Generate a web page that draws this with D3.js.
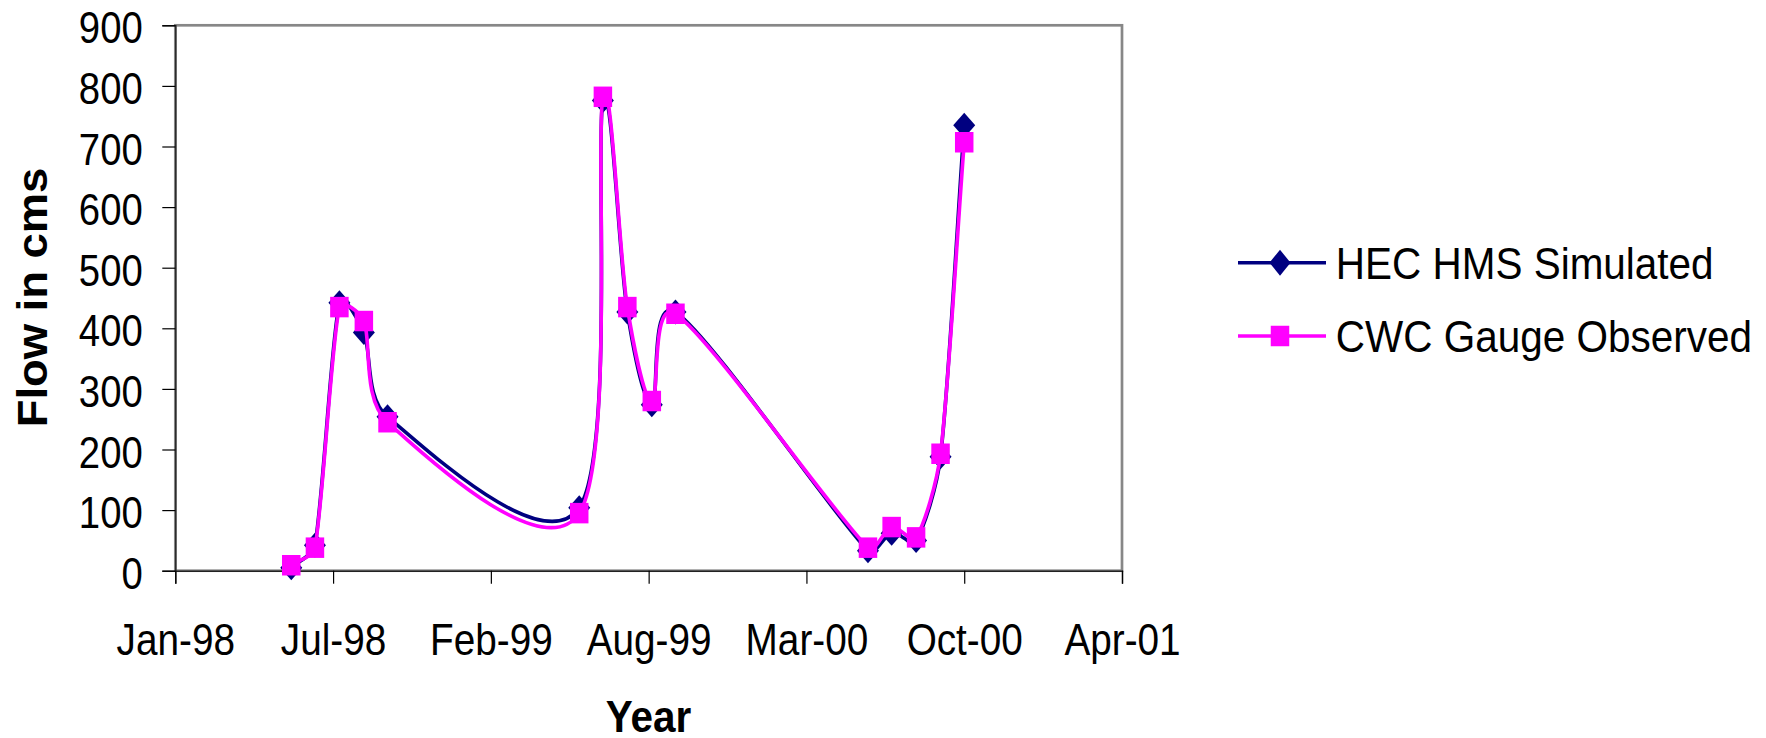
<!DOCTYPE html>
<html>
<head>
<meta charset="utf-8">
<script src="https://cdn.jsdelivr.net/npm/d3@7"></script>
<style>
  html, body { margin: 0; padding: 0; background: #ffffff; }
  svg { display: block; }
  text { font-family: "Liberation Sans", Arial, sans-serif; fill: #000; }
</style>
</head>
<body>
<svg id="chart" width="1766" height="738"></svg>
<script>
// Monthly flows (June–October) for three monsoon seasons
const obsDates = [
  "1998-06-01", "1998-07-01", "1998-08-01", "1998-09-01", "1998-10-01",
  "1999-06-01", "1999-07-01", "1999-08-01", "1999-09-01", "1999-10-01",
  "2000-06-01", "2000-07-01", "2000-08-01", "2000-09-01", "2000-10-01"
];
const hecSimulated = [5, 42, 442, 393, 254, 104, 776, 427, 274, 427, 33, 62, 50, 188, 735];
const cwcObserved  = [9, 38, 435, 412, 245, 95, 782, 435, 280, 424, 38, 72, 55, 193, 707];

const seriesNames = ["HEC HMS Simulated", "CWC Gauge Observed"];

// Date axis: 200-day major unit
const xTickDates  = ["1998-01-05", "1998-07-24", "1999-02-09", "1999-08-28", "2000-03-15", "2000-10-01", "2001-04-19"];
const xTickLabels = ["Jan-98", "Jul-98", "Feb-99", "Aug-99", "Mar-00", "Oct-00", "Apr-01"];
const yTicks = [0, 100, 200, 300, 400, 500, 600, 700, 800, 900];

const parse = d3.utcParse("%Y-%m-%d");
const dates = obsDates.map(parse);
const tickDates = xTickDates.map(parse);

const plot = { left: 175.3, right: 1122, top: 25.3, bottom: 570.7 };

const x = d3.scaleUtc()
  .domain([tickDates[0], tickDates[tickDates.length - 1]])
  .range([plot.left, plot.right]);
const y = d3.scaleLinear()
  .domain([0, 900])
  .range([plot.bottom, plot.top]);

// Spreadsheet-style smoothing: Catmull-Rom tangents as cubic Béziers,
// with each control arm limited to a third of its segment's chord.
function smoothLine(context) {
  let pts;
  const limit = 1 / 3;
  return {
    areaStart() {}, areaEnd() {},
    lineStart() { pts = []; },
    point(px, py) { pts.push([+px, +py]); },
    lineEnd() {
      const n = pts.length;
      if (!n) return;
      context.moveTo(pts[0][0], pts[0][1]);
      if (n === 1) return;
      const tan = pts.map((p, i) => {
        const a = pts[Math.max(0, i - 1)], b = pts[Math.min(n - 1, i + 1)];
        const f = (i === 0 || i === n - 1) ? 1 : 0.5;
        return [(b[0] - a[0]) * f / 3, (b[1] - a[1]) * f / 3];
      });
      const clamp = (v, maxLen) => {
        const len = Math.hypot(v[0], v[1]);
        return len > maxLen && len > 0 ? [v[0] * maxLen / len, v[1] * maxLen / len] : v;
      };
      for (let i = 0; i < n - 1; i++) {
        const p0 = pts[i], p1 = pts[i + 1];
        const chord = Math.hypot(p1[0] - p0[0], p1[1] - p0[1]);
        const a = clamp(tan[i], chord * limit);
        const b = clamp(tan[i + 1], chord * limit);
        context.bezierCurveTo(p0[0] + a[0], p0[1] + a[1], p1[0] - b[0], p1[1] - b[1], p1[0], p1[1]);
      }
    }
  };
}

const svg = d3.select("#chart");
svg.append("rect").attr("width", 1766).attr("height", 738).attr("fill", "#fff");

// Plot area frame
svg.append("rect")
  .attr("x", plot.left).attr("y", plot.top)
  .attr("width", plot.right - plot.left).attr("height", plot.bottom - plot.top)
  .attr("fill", "none").attr("stroke", "#878787").attr("stroke-width", 2.7);

// Y axis
const yAxis = svg.append("g")
  .attr("transform", `translate(${plot.left},0)`)
  .call(d3.axisLeft(y).tickValues(yTicks).tickSize(13).tickFormat(d3.format("d")));
yAxis.select(".domain").attr("stroke", "#222").attr("stroke-width", 1.4);
yAxis.selectAll(".tick line").attr("stroke", "#000").attr("stroke-width", 1.2);
yAxis.selectAll(".tick text")
  .attr("x", null).attr("dy", null)
  .attr("transform", "translate(-32.6,17.5) scale(0.87,1)")
  .attr("text-anchor", "end")
  .style("font-size", "44px")
  .style("font-family", "'Liberation Sans', Arial, sans-serif");

// X axis
const xAxis = svg.append("g")
  .attr("transform", `translate(0,${plot.bottom})`)
  .call(d3.axisBottom(x).tickValues(tickDates).tickSize(13)
    .tickFormat((d, i) => xTickLabels[i]));
xAxis.select(".domain").attr("stroke", "#222").attr("stroke-width", 1.4);
xAxis.selectAll(".tick line").attr("stroke", "#000").attr("stroke-width", 1.2);
xAxis.selectAll(".tick text")
  .attr("y", null).attr("dy", null)
  .attr("transform", "translate(0,84.3) scale(0.88,1)")
  .attr("text-anchor", "middle")
  .style("font-size", "44px")
  .style("font-family", "'Liberation Sans', Arial, sans-serif");

// Axis titles
svg.append("text")
  .attr("transform", "translate(46.7,297.5) rotate(-90) scale(1.08,1)")
  .attr("text-anchor", "middle")
  .style("font-size", "42px").style("font-weight", "bold")
  .text("Flow in cms");

svg.append("text")
  .attr("transform", "translate(648.5,731.5) scale(0.92,1)")
  .attr("text-anchor", "middle")
  .style("font-size", "44px").style("font-weight", "bold")
  .text("Year");

// Series
const line = d3.line()
  .x(d => x(d.date))
  .y(d => y(d.value))
  .curve(smoothLine);

const diamond = "M0,-12.5L11,0L0,12.5L-11,0Z";
const square = "M-9.25,-10.25H9.25V10.25H-9.25Z";

const series = [
  { name: seriesNames[0], values: hecSimulated, color: "#000080", marker: diamond },
  { name: seriesNames[1], values: cwcObserved,  color: "#FF00FF", marker: square }
];

series.forEach(s => {
  const pts = dates.map((d, i) => ({ date: d, value: s.values[i] }));
  const g = svg.append("g");
  g.append("path")
    .datum(pts)
    .attr("d", line)
    .attr("fill", "none")
    .attr("stroke", s.color)
    .attr("stroke-width", 3.6)
    .attr("stroke-linejoin", "round");
  g.selectAll("path.marker")
    .data(pts)
    .join("path")
    .attr("class", "marker")
    .attr("d", s.marker)
    .attr("transform", d => `translate(${x(d.date)},${y(d.value)})`)
    .attr("fill", s.color);
});

// Legend
const legendRows = [262.7, 336];
series.forEach((s, i) => {
  const g = svg.append("g").attr("transform", `translate(0,${legendRows[i]})`);
  g.append("line")
    .attr("x1", 1238).attr("x2", 1326).attr("y1", 0).attr("y2", 0)
    .attr("stroke", s.color).attr("stroke-width", 3.6);
  g.append("path")
    .attr("d", i === 0 ? "M0,-13L10.5,0L0,13L-10.5,0Z" : s.marker)
    .attr("transform", "translate(1280,0)")
    .attr("fill", s.color);
  g.append("text")
    .attr("transform", "translate(1335.8,15.8) scale(0.92,1)")
    .style("font-size", "44px")
    .text(s.name);
});
</script>
</body>
</html>
